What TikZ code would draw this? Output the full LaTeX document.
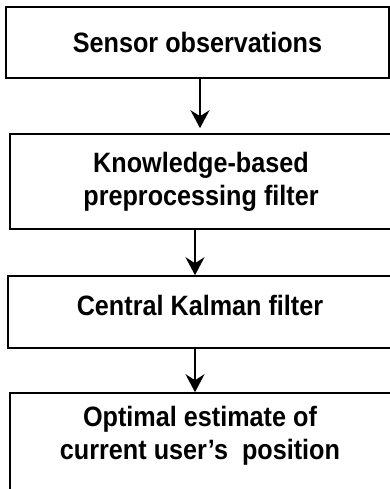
\documentclass[tikz,border=0pt]{standalone}
\usepackage{fontspec}
\setmainfont{Liberation Sans}[FakeStretch=0.9]
\usetikzlibrary{arrows.meta}
\tikzset{flow box/.style={
    draw, rectangle, line width=1.6pt, inner sep=0pt, align=center,
    font=\bfseries\fontsize{28}{33}\selectfont},
  flow text/.style={align=center, inner sep=0pt,
    font=\bfseries\fontsize{28}{33}\selectfont},
  flow arrow/.style={-{Stealth[length=18pt,width=19pt,inset=6pt]}, line width=1.5pt}
}

\begin{document}
\begin{tikzpicture}[x=1pt,y=-1pt]
        \useasboundingbox (0,0) rectangle (390,489);
        %blocks
        \node[flow box, minimum width=383pt, minimum height=71pt](sensor) at (197.5,42.5){Sensor observations};
        \node[flow box, minimum width=382pt, minimum height=95pt](prefilter) at (201,181.5){Knowledge-based\\preprocessing filter};
        \node[flow box, minimum width=384pt, minimum height=72pt, text depth=13pt](kalman) at (200,312){Central Kalman filter};
        \node[flow box, minimum width=382pt, minimum height=110pt](estimate) at (201,448){};
        \node[flow text](estimatetext) at (200,436){Optimal estimate of\\current user's~ position};

        %arrows
        \draw[flow arrow, shorten >=5pt] ([xshift=2.5pt]sensor.south) -- ([xshift=-1pt]prefilter.north);
        \draw[flow arrow] ([xshift=-6pt]prefilter.south) -- ([xshift=-5pt]kalman.north);
        \draw[flow arrow] ([xshift=-5pt]kalman.south) -- ([xshift=-6pt]estimate.north);
\end{tikzpicture}
\end{document}
